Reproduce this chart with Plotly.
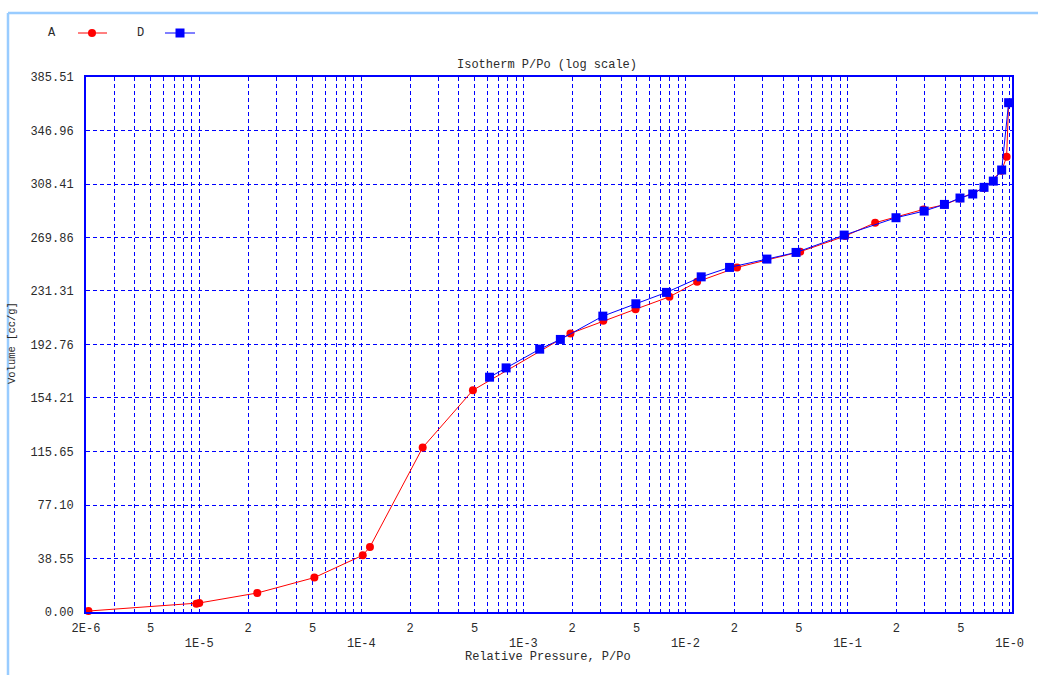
import math
import plotly.graph_objects as go

# ---- data -------------------------------------------------------------
# Series A (red circles): relative pressure P/Po and adsorbed volume [cc/g]
a_pressure = [2.07e-6, 9.6e-6, 1.0e-5, 2.28e-5, 5.13e-5, 1.02e-4, 1.13e-4,
              2.39e-4, 4.88e-4, 1.95e-3, 3.11e-3, 4.92e-3, 7.96e-3, 1.18e-2,
              2.08e-2, 5.1e-2, 0.0967, 0.148, 0.294, 0.396, 0.494, 0.695,
              0.893, 0.958, 0.986]
a_volume = [0.7, 6.0, 6.5, 13.7, 24.8, 40.9, 46.9,
            118.5, 159.8, 200.7, 209.8, 218.2, 227.1, 237.9,
            248.3, 259.6, 270.9, 280.5, 290.1, 293.5, 298.0, 305.5,
            318.0, 328.0, 367.0]

# Series D (blue squares)
d_pressure = [6.18e-4, 7.82e-4, 1.26e-3, 1.69e-3, 3.09e-3, 4.94e-3, 7.63e-3,
              1.25e-2, 1.87e-2, 3.18e-2, 4.81e-2, 0.0953, 0.199, 0.297,
              0.396, 0.494, 0.592, 0.695, 0.793, 0.893, 0.986]
d_volume = [169.2, 175.9, 189.4, 196.4, 213.2, 222.1, 230.3,
            241.5, 248.3, 254.3, 259.1, 271.6, 284.1, 288.9,
            293.7, 298.3, 301.2, 306.0, 310.5, 318.5, 367.0]

# y-axis tick labels (volume)
y_tick_labels = ["0.00", "38.55", "77.10", "115.65", "154.21", "192.76",
                 "231.31", "269.86", "308.41", "346.96", "385.51"]

# x-axis labels: upper row (2E-6 and the 2/5 sub-decade marks), lower row (decades)
x_upper_vals = [2e-6, 5e-6, 2e-5, 5e-5, 2e-4, 5e-4, 2e-3, 5e-3, 2e-2, 5e-2, 0.2, 0.5]
x_upper_text = ["2E-6", "5", "2", "5", "2", "5", "2", "5", "2", "5", "2", "5"]
x_decade_vals = [1e-5, 1e-4, 1e-3, 1e-2, 1e-1, 1.0]
x_decade_text = ["1E-5", "1E-4", "1E-3", "1E-2", "1E-1", "1E-0"]

# ---- layout constants ---------------------------------------------------
W, H = 1038, 675
ML, MR, MT, MB = 86, 26, 77, 63
PW, PH = W - ML - MR, H - MT - MB
FONT = "Liberation Mono, Courier New, monospace"
TXT = "#2a2a2a"
BLUE = "#0000ff"
GRID_DASH = "4px,3px"

x_range = [math.log10(2e-6), 0.0146]
y_range = [0, 385.51]


def px_x(px):
    return (px - ML) / PW


def px_y(py):
    return (H - MB - py) / PH


# every 1..9 multiple inside the range gets a vertical grid line
minor_vals = []
for e in range(-6, 1):
    for m in range(1, 10):
        v = m * 10.0 ** e
        if 2e-6 <= v <= 1.0 + 1e-9:
            minor_vals.append(v)

fig = go.Figure()

fig.add_trace(go.Scatter(
    x=a_pressure, y=a_volume, mode="lines+markers", name="A",
    line=dict(color="#ff0000", width=1),
    marker=dict(symbol="circle", size=8, color="#ff0000"),
    showlegend=False, cliponaxis=False,
))
fig.add_trace(go.Scatter(
    x=d_pressure, y=d_volume, mode="lines+markers", name="D",
    line=dict(color=BLUE, width=1),
    marker=dict(symbol="square", size=9, color=BLUE),
    showlegend=False, cliponaxis=False,
))
# invisible carrier for the decade label axis
fig.add_trace(go.Scatter(x=[1e-3], y=[0], xaxis="x2", mode="markers",
                         marker=dict(opacity=0), showlegend=False,
                         hoverinfo="skip"))

shapes = []
# dashed black decade ticks below the axis
for v in x_decade_vals:
    lv = math.log10(v)
    shapes.append(dict(type="line", xref="x", yref="paper", x0=lv, x1=lv,
                       y0=0, y1=-21 / PH,
                       line=dict(color="#000000", width=1, dash="3px,3px")))
# light blue panel frame (top and left edges)
shapes.append(dict(type="line", xref="paper", yref="paper",
                   x0=px_x(8), x1=px_x(W + 10), y0=px_y(13), y1=px_y(13),
                   line=dict(color="#99ccff", width=2.5)))
shapes.append(dict(type="line", xref="paper", yref="paper",
                   x0=px_x(8), x1=px_x(8), y0=px_y(13), y1=px_y(H + 10),
                   line=dict(color="#99ccff", width=2.5)))
# legend keys
ly = px_y(33)
shapes.append(dict(type="line", xref="paper", yref="paper",
                   x0=px_x(78), x1=px_x(107), y0=ly, y1=ly,
                   line=dict(color="#ff0000", width=1)))
shapes.append(dict(type="circle", xref="paper", yref="paper",
                   xsizemode="pixel", ysizemode="pixel",
                   xanchor=px_x(92), yanchor=ly, x0=-4, x1=4, y0=-4, y1=4,
                   fillcolor="#ff0000", line=dict(color="#ff0000", width=0)))
shapes.append(dict(type="line", xref="paper", yref="paper",
                   x0=px_x(165), x1=px_x(195), y0=ly, y1=ly,
                   line=dict(color=BLUE, width=1)))
shapes.append(dict(type="rect", xref="paper", yref="paper",
                   xsizemode="pixel", ysizemode="pixel",
                   xanchor=px_x(180), yanchor=ly, x0=-4.5, x1=4.5, y0=-4.5, y1=4.5,
                   fillcolor=BLUE, line=dict(color=BLUE, width=0)))


def label(text, px, py, size=12, angle=0):
    return dict(text=text, xref="paper", yref="paper", x=px_x(px), y=px_y(py),
                xanchor="center", yanchor="middle", textangle=angle,
                showarrow=False, font=dict(family=FONT, size=size, color=TXT))


annotations = [
    label("A", 52, 33),
    label("D", 140, 33),
    label("Relative Pressure, P/Po", 548, 657),
    label("Volume [cc/g]", 12, 343, size=10.5, angle=-90),
]

fig.update_layout(
    width=W, height=H,
    margin=dict(l=ML, r=MR, t=MT, b=MB, pad=0),
    paper_bgcolor="white", plot_bgcolor="white",
    font=dict(family=FONT, size=12, color=TXT),
    title=dict(text="Isotherm P/Po (log scale)", x=px_x(547), xref="paper",
               xanchor="center", y=1 - 63.3 / H, yanchor="middle",
               font=dict(family=FONT, size=12, color=TXT)),
    xaxis=dict(
        type="log", range=x_range,
        tickmode="array", tickvals=x_upper_vals, ticktext=x_upper_text,
        ticks="", ticklabelstandoff=4,
        showgrid=False, zeroline=False,
        showline=True, linecolor=BLUE, linewidth=2, mirror=True,
        minor=dict(tickmode="array", tickvals=minor_vals, showgrid=True,
                   gridcolor=BLUE, gridwidth=1, griddash=GRID_DASH, ticks=""),
    ),
    xaxis2=dict(
        type="log", range=x_range, overlaying="x", anchor="y", side="bottom",
        tickmode="array", tickvals=x_decade_vals, ticktext=x_decade_text,
        ticks="", ticklabelstandoff=22,
        showgrid=False, zeroline=False, showline=False,
    ),
    yaxis=dict(
        range=y_range, tickmode="array",
        tickvals=[float(t) for t in y_tick_labels], ticktext=y_tick_labels,
        ticks="", ticklabelstandoff=8,
        showgrid=True, gridcolor=BLUE, gridwidth=1, griddash=GRID_DASH,
        zeroline=False,
        showline=True, linecolor=BLUE, linewidth=2, mirror=True,
    ),
    shapes=shapes,
    annotations=annotations,
    showlegend=False,
)

fig.write_html("out.html")
